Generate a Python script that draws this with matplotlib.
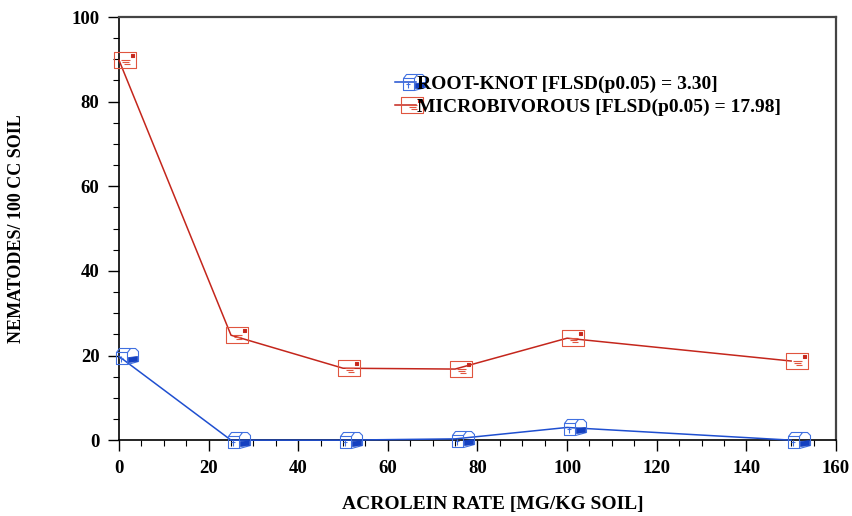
import matplotlib.pyplot as plt
from matplotlib.path import Path
from matplotlib.ticker import MultipleLocator
from matplotlib.legend_handler import HandlerTuple

# acrolein rate (mg/kg soil) and nematode counts per 100 cc soil
rate = [0, 25, 50, 75, 100, 150]
root_knot = [19.8, 0.0, 0.0, 0.3, 3.0, 0.0]
microbivorous = [89.8, 24.8, 17.0, 16.8, 24.1, 18.7]

labels = ['ROOT-KNOT [FLSD(p0.05) = 3.30]',
          'MICROBIVOROUS [FLSD(p0.05) = 17.98]']

DPI = 100
FONT = 'Liberation Serif'


def glyph(parts):
    """Build a marker path from polylines given in pixel offsets (y down).
    Returns the path and the markersize that keeps those pixel sizes."""
    verts, codes = [], []
    for pts, closed in parts:
        for i, (x, y) in enumerate(pts):
            verts.append((x, -y))
            codes.append(Path.MOVETO if i == 0 else Path.LINETO)
        if closed:
            verts.append((pts[0][0], -pts[0][1]))
            codes.append(Path.CLOSEPOLY)
    m = max(max(abs(a), abs(b)) for a, b in verts)
    return Path(verts, codes), 2 * m * 72 / DPI


# envelope-like box used for the microbivorous series
env, env_ms = glyph([
    ([(-5, -8), (17, -8), (17, 8), (-5, 8)], True),
    ([(12, -6), (15, -6), (15, -3), (12, -3)], True),
    ([(2, 0), (11, 0)], False),
    ([(3, 2), (10, 2)], False),
    ([(5, 4), (11, 4)], False),
])
env_dot, env_dot_ms = glyph([
    ([(-5, -8), (-5, -8)], False),
    ([(12, -6), (15, -6), (15, -3), (12, -3)], True),
])

# mailbox-like glyph used for the root-knot series
box, box_ms = glyph([
    ([(-3, -4), (8, -4), (8, 8), (-3, 8)], True),
    ([(-3, -4), (0, -8), (16, -8), (19, -5), (19, 5), (8, 8)], False),
    ([(8, -4), (11, -8)], False),
    ([(2, 0), (2, 6)], False),
    ([(0, 2), (4, 2)], False),
])
flag, flag_ms = glyph([
    ([(-3, -8), (-3, -8)], False),
    ([(9, 1), (18, 0), (18, 5), (9, 6)], True),
])

plt.rcParams['font.family'] = [FONT, 'DejaVu Serif']
plt.rcParams['font.weight'] = 'bold'
plt.rcParams['axes.labelweight'] = 'bold'

fig = plt.figure(figsize=(853 / DPI, 516 / DPI), dpi=DPI)
ax = fig.add_axes([0.1395, 0.147, 0.8405, 0.82])

blue, blue_m, blue_f = '#1f4fd0', '#4070e0', '#1440c0'
red, red_m = '#c4261c', '#e0553f'

lb, = ax.plot(rate, root_knot, color=blue, lw=1.1, marker=box, ms=box_ms,
              mec=blue_m, mfc='none', mew=0.8, clip_on=False, zorder=4)
fb, = ax.plot(rate, root_knot, ls='none', marker=flag, ms=flag_ms,
              mec=blue_f, mfc=blue_f, mew=0.5, clip_on=False, zorder=5)
lr, = ax.plot(rate, microbivorous, color=red, lw=1.1, marker=env, ms=env_ms,
              mec=red_m, mfc='none', mew=0.8, clip_on=False, zorder=4)
fr, = ax.plot(rate, microbivorous, ls='none', marker=env_dot, ms=env_dot_ms,
              mec=red, mfc=red, mew=0.5, clip_on=False, zorder=5)

ax.set_xlim(0, 160)
ax.set_ylim(0, 100)
ax.xaxis.set_major_locator(MultipleLocator(20))
ax.xaxis.set_minor_locator(MultipleLocator(5))
ax.yaxis.set_major_locator(MultipleLocator(20))
ax.yaxis.set_minor_locator(MultipleLocator(5))
ax.tick_params(which='major', direction='out', length=8, width=1.0,
               labelsize=13.5, pad=6)
ax.tick_params(which='minor', direction='out', length=4, width=0.8)
ax.tick_params(top=False, right=False, which='both')

for s in ('left', 'bottom'):
    ax.spines[s].set_linewidth(1.2)
    ax.spines[s].set_color('black')
for s in ('top', 'right'):
    ax.spines[s].set_linewidth(1.6)
    ax.spines[s].set_color('#444444')

ax.set_xlabel('ACROLEIN RATE [MG/KG SOIL]', fontsize=14)
ax.xaxis.set_label_coords(0.522, -0.132)
ax.set_ylabel('NEMATODES/ 100 CC SOIL', fontsize=13)
ax.yaxis.set_label_coords(-0.131, 0.5)

ax.legend([(lb, fb), (lr, fr)], labels,
          handler_map={tuple: HandlerTuple(ndivide=1)},
          loc='upper left', bbox_to_anchor=(0.374, 0.88), frameon=False,
          fontsize=14, handlelength=1.1, handletextpad=0.05,
          labelspacing=0.25, borderaxespad=0)

fig.savefig('out.png', dpi=DPI)
